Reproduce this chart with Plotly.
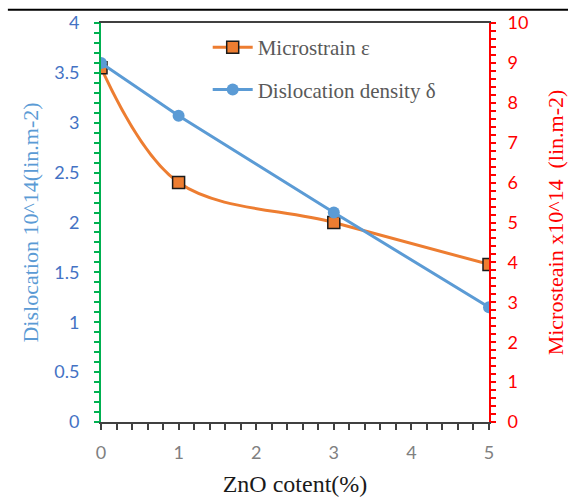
import plotly.graph_objects as go

# ZnO content (%)
zno = [0, 1, 3, 5]
# Microstrain (x10^14, right axis)
microstrain = [8.88, 6.0, 5.0, 3.95]
# Dislocation density (10^14 lin.m-2, left axis)
dislocation = [3.6, 3.07, 2.1, 1.15]

x_ticks = [0, 1, 2, 3, 4, 5]
left_ticks = [0, 0.5, 1, 1.5, 2, 2.5, 3, 3.5, 4]
right_ticks = list(range(0, 11))

ORANGE = "#ED7D31"
BLUE = "#5B9BD5"
SERIF = "Liberation Serif"
SANS = "Lato"

fig = go.Figure()

fig.add_trace(go.Scatter(
    x=zno, y=microstrain, name="Microstrain ε", yaxis="y", legendgroup="a",
    mode="lines+markers", line=dict(color=ORANGE, width=3, shape="spline", smoothing=1.0),
    marker=dict(symbol="square", size=12, color=ORANGE, line=dict(color="#1a1a1a", width=1.5)),
))
fig.add_trace(go.Scatter(
    x=zno, y=dislocation, name="Dislocation density δ", yaxis="y2", legendgroup="b",
    mode="lines+markers", line=dict(color=BLUE, width=3),
    marker=dict(symbol="circle", size=12, color=BLUE),
))

fig.update_layout(
    width=568, height=500,
    margin=dict(l=101, r=79, t=23, b=78, autoexpand=False),
    paper_bgcolor="white", plot_bgcolor="white",
    showlegend=True,
    legend=dict(x=0.275, y=0.99, xanchor="left", yanchor="top",
                bgcolor="rgba(0,0,0,0)", font=dict(family=SERIF, size=21, color="#595959"),
                tracegroupgap=12, itemwidth=40),
    xaxis=dict(
        range=[0, 5], tickvals=x_ticks, showgrid=False, zeroline=False, automargin=False,
        showline=True, linecolor="#404040", linewidth=2, mirror=True,
        ticks="outside", ticklen=6, tickwidth=2, tickcolor="#404040",
        minor=dict(dtick=0.2, ticks="outside", ticklen=6, tickwidth=2, tickcolor="#404040"),
        tickfont=dict(family=SANS, size=18, color="#808080"), ticklabelstandoff=7,
        title=dict(text="ZnO cotent(%)", font=dict(family=SERIF, size=24, color="#1a1a1a"), standoff=14),
    ),
    yaxis=dict(
        side="right", range=[0, 10], tickvals=right_ticks, showgrid=False, zeroline=False, automargin=False,
        showline=True, linecolor="#FF0000", linewidth=2,
        ticks="outside", ticklen=5, tickwidth=2, tickcolor="#FF0000",
        minor=dict(dtick=0.2, ticks="outside", ticklen=5, tickwidth=2, tickcolor="#FF0000"),
        tickfont=dict(family=SANS, size=18, color="#FF0000"), ticklabelstandoff=8,
        title=dict(text="Microsteain x10^14  (lin.m-2)", font=dict(family=SERIF, size=22, color="#FF0000"), standoff=21),
    ),
    yaxis2=dict(
        overlaying="y", side="left", range=[0, 4], tickvals=left_ticks, showgrid=False, zeroline=False,
        automargin=False,
        showline=True, linecolor="#00B050", linewidth=2,
        ticks="outside", ticklen=5, tickwidth=2, tickcolor="#00B050",
        minor=dict(dtick=0.1, ticks="outside", ticklen=5, tickwidth=2, tickcolor="#00B050"),
        tickfont=dict(family=SANS, size=18, color="#4472C4"), ticklabelstandoff=11,
        title=dict(text="Dislocation 10^14(lin.m-2)", font=dict(family=SERIF, size=22, color=BLUE), standoff=10),
    ),
    shapes=[dict(type="line", xref="paper", yref="paper",
                 x0=-0.24, x1=1.21, y0=1.033, y1=1.033,
                 line=dict(color="black", width=2))],
)

fig.write_html("out.html")
